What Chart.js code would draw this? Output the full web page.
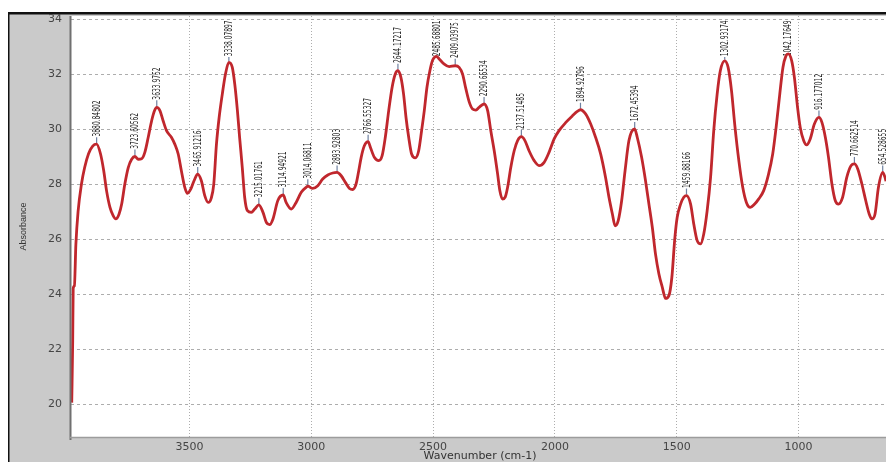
<!DOCTYPE html>
<html>
<head>
<meta charset="utf-8">
<script src="https://cdn.jsdelivr.net/npm/chart.js@4/dist/chart.umd.min.js"></script>
<style>
  html, body { margin: 0; padding: 0; background: #fff; overflow: hidden; }
  #wrap { width: 886px; height: 462px; position: relative; }
</style>
</head>
<body>
<div id="wrap"><canvas id="c" width="886" height="462"></canvas></div>
<script>
// FTIR spectrum: wavenumber (cm-1) against absorbance
const wavenumbers = [
  3983, 3979, 3977, 3972, 3966, 3957, 3943, 3930, 3914, 3897, 3880.84802,
  3865, 3852, 3840, 3826, 3813, 3802, 3789, 3778, 3765, 3751, 3737, 3723.60562,
  3710, 3696, 3683, 3669, 3655, 3643, 3633.9752,
  3621, 3608, 3594, 3574, 3560, 3546, 3533, 3519, 3508, 3494, 3481, 3465.91216,
  3451, 3437, 3423, 3410, 3400, 3389, 3378, 3365, 3352, 3338.07897,
  3324, 3314, 3303, 3294, 3283, 3273, 3262, 3246, 3232, 3215.01761,
  3198, 3184, 3171, 3157, 3137, 3114.94921,
  3103, 3082, 3062, 3041, 3021, 3014.06811,
  2994, 2973, 2953, 2932, 2912, 2893.92803,
  2877, 2860, 2843, 2830, 2816, 2805, 2795, 2782, 2766.55327,
  2757, 2741, 2723, 2709, 2696, 2682, 2668, 2655, 2644.17217,
  2632, 2621, 2611, 2600, 2588, 2573, 2559, 2547, 2536, 2525, 2513, 2502, 2485.68801,
  2475, 2454, 2434, 2409.03975,
  2393, 2379, 2365, 2351, 2338, 2324, 2311, 2290.66534,
  2276, 2263, 2249, 2235, 2226, 2215, 2204, 2194, 2181, 2167, 2153, 2137.51485,
  2123, 2106, 2085, 2065, 2044, 2024, 2003, 1983, 1955, 1928, 1908, 1894.92796,
  1874, 1853, 1833, 1812, 1792, 1778, 1764, 1753, 1740, 1726, 1712, 1696, 1672.45394,
  1662, 1644, 1628, 1614, 1600, 1587, 1573, 1559, 1546, 1532, 1520, 1508, 1498, 1484, 1471, 1459.88166,
  1443, 1430, 1416, 1402, 1389, 1375, 1361, 1348, 1334, 1321, 1302.93174,
  1289, 1275, 1262, 1245, 1229, 1214, 1198, 1180, 1164, 1143, 1123, 1106, 1092, 1077, 1064, 1052, 1042.17649,
  1028, 1017, 1004, 993, 979, 967, 952, 935, 916.177012,
  904, 890, 877, 863, 849, 836, 819, 802, 784, 770.662514,
  757, 740, 724, 710, 699, 686, 672, 654.528655,
  645, 641
];
const absorbance = [
  20.05, 22.3, 24.2, 24.3, 25.8, 27.0, 28.0, 28.6, 29.1, 29.38, 29.45,
  29.1, 28.5, 27.75, 27.15, 26.85, 26.73, 26.9, 27.27, 28.0, 28.6, 28.9, 29.0,
  28.9, 28.92, 29.15, 29.7, 30.3, 30.67, 30.79,
  30.67, 30.3, 29.94, 29.7, 29.45, 29.09, 28.48, 27.88, 27.66, 27.82, 28.12, 28.36,
  28.12, 27.58, 27.33, 27.5, 28.0, 29.45, 30.42, 31.27, 32.0, 32.42,
  32.24, 31.64, 30.67, 29.7, 28.6, 27.5, 27.03, 26.97, 27.09, 27.24,
  26.97, 26.6, 26.52, 26.73, 27.4, 27.6,
  27.33, 27.09, 27.33, 27.7, 27.88, 27.92,
  27.84, 27.94, 28.18, 28.33, 28.4, 28.42,
  28.3, 28.06, 27.84, 27.8, 28.0, 28.48, 28.97, 29.39, 29.54,
  29.33, 28.97, 28.85, 29.03, 29.7, 30.67, 31.52, 32.0, 32.12,
  31.88, 31.27, 30.42, 29.7, 29.09, 28.95, 29.21, 29.94, 30.67, 31.52, 32.12, 32.5, 32.64,
  32.55, 32.36, 32.27, 32.3,
  32.24, 32.0, 31.45, 30.97, 30.73, 30.69, 30.79, 30.91,
  30.67, 29.94, 29.21, 28.36, 27.76, 27.45, 27.52, 27.88, 28.6, 29.21, 29.58, 29.72,
  29.58, 29.21, 28.85, 28.67, 28.79, 29.15, 29.64, 29.94, 30.24, 30.48, 30.64, 30.7,
  30.55, 30.18, 29.7, 29.09, 28.24, 27.52, 26.91, 26.48, 26.67, 27.39, 28.48, 29.58, 30.0,
  29.7, 28.97, 28.12, 27.27, 26.42, 25.45, 24.73, 24.24, 23.84, 23.94, 24.6, 26.0, 26.79, 27.27, 27.52, 27.58,
  27.27, 26.55, 25.94, 25.82, 26.18, 27.03, 28.24, 29.94, 31.27, 32.12, 32.48,
  32.24, 31.39, 30.18, 28.85, 27.88, 27.33, 27.15, 27.27, 27.45, 27.76, 28.36, 29.09, 30.06, 31.27, 32.24, 32.65, 32.73,
  32.48, 31.88, 30.79, 30.06, 29.58, 29.42, 29.64, 30.18, 30.42,
  30.24, 29.7, 28.97, 28.0, 27.39, 27.27, 27.52, 28.24, 28.67, 28.73,
  28.55, 28.0, 27.39, 26.91, 26.73, 26.91, 27.88, 28.42,
  28.24, 28.1
];
// Picked peak positions, printed above each band
const peakLabels = [
  '3880.84802', '3723.60562', '3633.9752', '3465.91216', '3338.07897', '3215.01761',
  '3114.94921', '3014.06811', '2893.92803', '2766.55327', '2644.17217', '2485.68801',
  '2409.03975', '2290.66534', '2137.51485', '1894.92796', '1672.45394', '1459.88166',
  '1302.93174', '1042.17649', '916.177012', '770.662514', '654.528655'
];
const xTickValues = [3500, 3000, 2500, 2000, 1500, 1000];
const yTickValues = [20, 22, 24, 26, 28, 30, 32, 34];
const xTitle = 'Wavenumber (cm-1)';
const yTitle = 'Absorbance';

const points = wavenumbers.map((w, i) => ({ x: w, y: absorbance[i] }));

// Window frame, plot background and axis titles
const framePlugin = {
  id: 'frame',
  beforeDraw(chart) {
    const { ctx, width, height, chartArea: a } = chart;
    ctx.save();
    ctx.fillStyle = '#ffffff';
    ctx.fillRect(0, 0, width, height);
    ctx.fillStyle = '#cacaca';
    ctx.fillRect(9, 14, width - 9, height - 14);
    ctx.fillStyle = '#111';
    ctx.fillRect(8, 12, width - 8, 2.5);
    ctx.fillRect(8, 12, 1.5, height - 12);
    ctx.fillStyle = '#ffffff';
    ctx.fillRect(a.left, a.top, a.right - a.left, a.bottom - a.top);
    ctx.restore();
  },
  afterDraw(chart) {
    const { ctx, chartArea: a } = chart;
    ctx.save();
    ctx.strokeStyle = '#707070';
    ctx.lineWidth = 2;
    ctx.beginPath();
    ctx.moveTo(a.left - 0.5, a.top);
    ctx.lineTo(a.left - 0.5, a.bottom + 3);
    ctx.stroke();
    ctx.strokeStyle = '#9c9c9c';
    ctx.lineWidth = 1.5;
    ctx.beginPath();
    ctx.moveTo(a.left - 1, a.bottom + 0.5);
    ctx.lineTo(a.right, a.bottom + 0.5);
    ctx.stroke();

    ctx.fillStyle = '#333';
    ctx.font = "11px 'DejaVu Sans', sans-serif";
    ctx.textAlign = 'center';
    ctx.textBaseline = 'middle';
    ctx.fillText(xTitle, 480, 456);
    ctx.translate(24, (a.top + a.bottom) / 2);
    ctx.rotate(-Math.PI / 2);
    ctx.font = "9px 'Liberation Sans', Arial, sans-serif";
    ctx.fillText(yTitle, 0, 0);
    ctx.restore();
  }
};

// Vertical peak annotations, drawn under the spectrum line
const peakPlugin = {
  id: 'peaks',
  beforeDatasetsDraw(chart) {
    const { ctx, chartArea: a } = chart;
    const xs = chart.scales.x, ys = chart.scales.y;
    ctx.save();
    ctx.beginPath();
    ctx.rect(a.left, a.top, a.right - a.left, a.bottom - a.top);
    ctx.clip();
    ctx.font = "10px 'Liberation Sans Narrow', 'DejaVu Sans Condensed', 'Liberation Sans', sans-serif";
    const sx = 36 / ctx.measureText('3880.84802').width;
    peakLabels.forEach(txt => {
      const wn = parseFloat(txt);
      const idx = wavenumbers.findIndex(w => Math.abs(w - wn) < 1e-6);
      if (idx < 0) return;
      const px = xs.getPixelForValue(wavenumbers[idx]);
      const py = ys.getPixelForValue(absorbance[idx]);
      const len = ctx.measureText(txt).width * sx;
      let base = py - 7;
      if (base - len < a.top + 5) base = a.top + 5 + len;
      if (base < py - 1) {
        ctx.strokeStyle = '#6f80a0';
        ctx.lineWidth = 1.2;
        ctx.beginPath();
        ctx.moveTo(px, py - 1);
        ctx.lineTo(px, base);
        ctx.stroke();
      }
      ctx.save();
      ctx.translate(px, base);
      ctx.rotate(-Math.PI / 2);
      ctx.scale(sx, 1);
      ctx.fillStyle = '#262626';
      ctx.textAlign = 'left';
      ctx.textBaseline = 'middle';
      ctx.fillText(txt, 1, 0.5);
      ctx.restore();
    });
    ctx.restore();
  }
};

new Chart(document.getElementById('c'), {
  type: 'line',
  data: {
    datasets: [{
      data: points,
      borderColor: '#c0272d',
      borderWidth: 2.8,
      pointRadius: 0,
      fill: false,
      cubicInterpolationMode: 'monotone'
    }]
  },
  options: {
    responsive: false,
    devicePixelRatio: 1,
    animation: false,
    events: [],
    layout: { padding: { top: 16, right: 0, bottom: 0, left: 0 } },
    plugins: { legend: { display: false }, tooltip: { enabled: false } },
    scales: {
      x: {
        type: 'linear',
        reverse: true,
        min: 641,
        max: 3986,
        afterFit(s) { s.height = 25; },
        afterBuildTicks(s) { s.ticks = xTickValues.map(v => ({ value: v })); },
        grid: { color: '#adadad', lineWidth: 1, drawTicks: false },
        border: { display: false, dash: [1, 2] },
        ticks: {
          padding: 4,
          color: '#454545',
          font: { family: "'DejaVu Sans', sans-serif", size: 11 },
          callback: v => String(v),
          maxRotation: 0
        }
      },
      y: {
        type: 'linear',
        min: 18.8,
        max: 34.11,
        afterFit(s) { s.width = 71; },
        afterBuildTicks(s) { s.ticks = yTickValues.map(v => ({ value: v })); },
        grid: { color: '#adadad', lineWidth: 1, drawTicks: false },
        border: { display: false, dash: [3, 3] },
        ticks: {
          padding: 9,
          color: '#454545',
          font: { family: "'DejaVu Sans', sans-serif", size: 11 },
          callback: v => String(v)
        }
      }
    }
  },
  plugins: [framePlugin, peakPlugin]
});
</script>
</body>
</html>
